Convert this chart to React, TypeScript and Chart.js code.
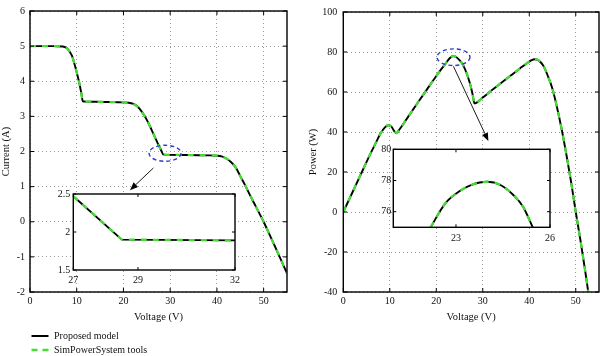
import React, { useEffect, useRef } from "react";
import { Chart, registerables } from "chart.js";

Chart.register(...registerables);

const FONT = "'Liberation Serif', 'Times New Roman', serif";
const GREEN = "#44dd33";
const BLUE = "#2a3bd0";

// ---------- Series names ----------
const seriesNames = ["Proposed model", "SimPowerSystem tools"];

// ---------- Left panel: I-V ----------
const ivVoltage = [0, 3, 5, 7, 7.5, 8, 8.5, 9, 9.5, 10, 10.5, 11, 11.3, 12, 14, 16, 18, 20, 21, 22, 23, 24, 25, 26, 27, 28, 28.6, 30, 33, 36, 38, 40, 41, 42, 43, 44, 45, 46, 47, 48, 49, 50, 51, 52, 53, 54, 55];
const ivModelCurrent = [5, 5, 5, 4.99, 4.97, 4.93, 4.84, 4.72, 4.5, 4.25, 3.98, 3.65, 3.43, 3.42, 3.415, 3.41, 3.405, 3.4, 3.39, 3.36, 3.28, 3.12, 2.9, 2.62, 2.33, 2.05, 1.91, 1.905, 1.9, 1.895, 1.89, 1.88, 1.86, 1.8, 1.7, 1.55, 1.3, 1.05, 0.78, 0.52, 0.26, 0, -0.29, -0.58, -0.87, -1.17, -1.47];
const ivSimCurrent = [5, 5, 5, 4.99, 4.97, 4.93, 4.84, 4.72, 4.5, 4.25, 3.98, 3.65, 3.43, 3.42, 3.415, 3.41, 3.405, 3.4, 3.39, 3.36, 3.28, 3.12, 2.9, 2.62, 2.33, 2.05, 1.91, 1.905, 1.9, 1.895, 1.89, 1.88, 1.86, 1.8, 1.7, 1.55, 1.3, 1.05, 0.78, 0.52, 0.26, 0, -0.29, -0.58, -0.87, -1.17, -1.47];
const ivXTicks = [0, 10, 20, 30, 40, 50];
const ivYTicks = [-2, -1, 0, 1, 2, 3, 4, 5, 6];

// Left inset (zoom of the knee)
const ivInsetVoltage = [27, 28.5, 32];
const ivInsetModelCurrent = [2.47, 1.9, 1.89];
const ivInsetSimCurrent = [2.47, 1.9, 1.89];
const ivInsetXTicks = [27, 29, 32];
const ivInsetYTicks = [1.5, 2, 2.5];

// ---------- Right panel: P-V ----------
const pvVoltage = [0, 2, 4, 6, 7, 8, 9, 9.6, 10.3, 11, 11.4, 12, 14, 16, 18, 20, 21, 22, 22.5, 23, 23.6, 24.2, 25, 25.7, 26.5, 27.2, 27.8, 28.2, 30, 32, 34, 36, 38, 39.5, 40.5, 41.1, 42, 43, 44, 45, 46, 47, 48, 49, 50, 51, 52, 53];
const pvModelPower = [0, 10, 20, 29.9, 34.6, 39.2, 42.4, 43.4, 42.8, 40.3, 39.4, 41, 47.8, 54.6, 61.3, 68, 71.2, 74.2, 75.8, 77.1, 78, 77.6, 75.9, 73.7, 69.6, 64.6, 59, 54.3, 57.2, 61, 64.6, 68.2, 71.8, 74.4, 75.9, 76.4, 75.8, 73.2, 68, 61.5, 52, 41, 28.5, 15, 0, -14, -29, -45];
const pvSimPower = [0, 10, 20, 29.9, 34.6, 39.2, 42.4, 43.4, 42.8, 40.3, 39.4, 41, 47.8, 54.6, 61.3, 68, 71.2, 74.2, 75.8, 77.1, 78, 77.6, 75.9, 73.7, 69.6, 64.6, 59, 54.3, 57.2, 61, 64.6, 68.2, 71.8, 74.4, 75.9, 76.4, 75.8, 73.2, 68, 61.5, 52, 41, 28.5, 15, 0, -14, -29, -45];
const pvXTicks = [0, 10, 20, 30, 40, 50];
const pvYTicks = [-40, -20, 0, 20, 40, 60, 80, 100];

// Right inset (zoom of the global peak)
const pvInsetVoltage = [22.19, 22.66, 23.17, 23.48, 24.0, 24.42, 24.83, 25.14, 25.45];
const pvInsetModelPower = [75, 76.54, 77.39, 77.71, 77.92, 77.71, 77.07, 76.32, 75];
const pvInsetSimPower = [75, 76.54, 77.39, 77.71, 77.92, 77.71, 77.07, 76.32, 75];
const pvInsetXTicks = [23, 26];
const pvInsetYTicks = [76, 78, 80];

// ---------- Annotations (data coordinates) ----------
const ivEllipse = { x: 28.9, y: 1.95, rx: 16, ry: 8 };
const ivArrow = { from: [26.4, 1.53], to: [21.4, 0.9] };
const pvEllipse = { x: 23.7, y: 77.4, rx: 16.5, ry: 8.3 };
const pvArrow = { from: [23.7, 72.8], to: [31.2, 35.5] };

type Box = {
  left: number; top: number; width: number; height: number;
  yAxisWidth: number; xAxisHeight: number;
  padTop: number; padRight: number;
};

function toPoints(xs: number[], ys: number[]) {
  return xs.map((x, i) => ({ x, y: ys[i] }));
}

function framePlugin(tickLen: number, lw: number) {
  return {
    id: "frame",
    afterDatasetsDraw(chart: any) {
      const { ctx, chartArea: a, scales } = chart;
      ctx.save();
      ctx.setLineDash([]);
      ctx.strokeStyle = "#000";
      ctx.lineWidth = 1;
      ctx.beginPath();
      for (const t of scales.x.ticks) {
        const px = scales.x.getPixelForValue(t.value);
        ctx.moveTo(px, a.bottom);
        ctx.lineTo(px, a.bottom - tickLen);
        ctx.moveTo(px, a.top);
        ctx.lineTo(px, a.top + tickLen);
      }
      for (const t of scales.y.ticks) {
        const py = scales.y.getPixelForValue(t.value);
        ctx.moveTo(a.left, py);
        ctx.lineTo(a.left + tickLen, py);
        ctx.moveTo(a.right, py);
        ctx.lineTo(a.right - tickLen, py);
      }
      ctx.stroke();
      ctx.lineWidth = lw;
      ctx.strokeRect(a.left, a.top, a.right - a.left, a.bottom - a.top);
      ctx.restore();
    },
  };
}

const whiteBgPlugin = {
  id: "whiteBg",
  beforeDraw(chart: any) {
    const { ctx, chartArea: a } = chart;
    ctx.save();
    ctx.fillStyle = "#fff";
    ctx.fillRect(a.left, a.top, a.right - a.left, a.bottom - a.top);
    ctx.restore();
  },
};

function annotationPlugin(ellipse: any, arrow: any) {
  return {
    id: "annot",
    afterDatasetsDraw(chart: any) {
      const { ctx, scales } = chart;
      const X = (v: number) => scales.x.getPixelForValue(v);
      const Y = (v: number) => scales.y.getPixelForValue(v);
      ctx.save();
      ctx.strokeStyle = BLUE;
      ctx.lineWidth = 1.4;
      ctx.setLineDash([4, 3]);
      ctx.beginPath();
      ctx.ellipse(X(ellipse.x), Y(ellipse.y), ellipse.rx, ellipse.ry, 0, 0, Math.PI * 2);
      ctx.stroke();
      ctx.setLineDash([]);
      ctx.strokeStyle = "#000";
      ctx.fillStyle = "#000";
      ctx.lineWidth = 0.9;
      const x1 = X(arrow.from[0]), y1 = Y(arrow.from[1]);
      const x2 = X(arrow.to[0]), y2 = Y(arrow.to[1]);
      const ang = Math.atan2(y2 - y1, x2 - x1);
      const hl = 8, hw = 3.2;
      const bx = x2 - hl * Math.cos(ang), by = y2 - hl * Math.sin(ang);
      ctx.beginPath();
      ctx.moveTo(x1, y1);
      ctx.lineTo(bx, by);
      ctx.stroke();
      ctx.beginPath();
      ctx.moveTo(x2, y2);
      ctx.lineTo(bx + hw * Math.sin(ang), by - hw * Math.cos(ang));
      ctx.lineTo(bx - hw * Math.sin(ang), by + hw * Math.cos(ang));
      ctx.closePath();
      ctx.fill();
      ctx.restore();
    },
  };
}

function makeConfig(p: {
  xs: number[]; model: number[]; sim: number[];
  xMin: number; xMax: number; yMin: number; yMax: number;
  xTicks: number[]; yTicks: number[];
  xTitle?: string; yTitle?: string; yTitlePad?: number;
  box: Box; grid: boolean; xTickPad: number; yTickPad: number;
  tickLen: number; extraPlugins: any[]; smooth: boolean;
}) {
  const tickFont = { family: FONT, size: 10 };
  const titleFont = { family: FONT, size: 10.5 };
  const gridOpts = p.grid
    ? { display: true, color: "#9a9a9a", lineWidth: 1, drawTicks: false }
    : { display: false, drawTicks: false };
  const curve = p.smooth
    ? { cubicInterpolationMode: "monotone" }
    : { tension: 0 };
  return {
    type: "line",
    data: {
      datasets: [
        {
          label: seriesNames[1],
          data: toPoints(p.xs, p.sim),
          borderColor: GREEN,
          borderWidth: 2.3,
          borderDash: [6, 6],
          pointRadius: 0,
          fill: false,
          ...curve,
        },
        {
          label: seriesNames[0],
          data: toPoints(p.xs, p.model),
          borderColor: "#000",
          borderWidth: 1.9,
          pointRadius: 0,
          fill: false,
          ...curve,
        },
      ],
    },
    options: {
      responsive: false,
      maintainAspectRatio: false,
      animation: false,
      events: [],
      layout: { padding: { top: p.box.padTop, right: p.box.padRight, left: 0, bottom: 0 } },
      plugins: { legend: { display: false }, tooltip: { enabled: false } },
      scales: {
        x: {
          type: "linear",
          min: p.xMin,
          max: p.xMax,
          afterBuildTicks: (s: any) => { s.ticks = p.xTicks.map((v) => ({ value: v })); },
          afterFit: (s: any) => { s.height = p.box.xAxisHeight; },
          ticks: { font: tickFont, color: "#111", padding: p.xTickPad, maxRotation: 0, autoSkip: false, callback: (v: any) => String(v) },
          grid: gridOpts,
          border: { display: false, dash: [1, 3] },
          title: p.xTitle
            ? { display: true, text: p.xTitle, font: titleFont, color: "#111", padding: { top: 0, bottom: 6 } }
            : { display: false },
        },
        y: {
          type: "linear",
          min: p.yMin,
          max: p.yMax,
          afterBuildTicks: (s: any) => { s.ticks = p.yTicks.map((v) => ({ value: v })); },
          afterFit: (s: any) => { s.width = p.box.yAxisWidth; },
          ticks: { font: tickFont, color: "#111", padding: p.yTickPad, autoSkip: false, callback: (v: any) => String(v) },
          grid: gridOpts,
          border: { display: false, dash: [1, 3] },
          title: p.yTitle
            ? { display: true, text: p.yTitle, font: titleFont, color: "#111", padding: { top: p.yTitlePad ?? 0, bottom: 0 } }
            : { display: false },
        },
      },
    },
    plugins: [...p.extraPlugins, framePlugin(p.tickLen, 1.4)],
  };
}

function ChartCanvas({ box, config }: { box: Box; config: any }) {
  const ref = useRef<HTMLCanvasElement | null>(null);
  useEffect(() => {
    if (!ref.current) return;
    const chart = new Chart(ref.current, config);
    return () => chart.destroy();
  }, []);
  return (
    <canvas
      ref={ref}
      width={box.width}
      height={box.height}
      style={{ position: "absolute", left: box.left, top: box.top, width: box.width, height: box.height }}
    />
  );
}

const leftBox: Box = { left: 0, top: 0, width: 300, height: 330, yAxisWidth: 30, xAxisHeight: 38, padTop: 4, padRight: 13 };
const rightBox: Box = { left: 300, top: 0, width: 300, height: 330, yAxisWidth: 43.3, xAxisHeight: 38, padTop: 4, padRight: 1 };
const leftInsetBox: Box = { left: 40, top: 185, width: 206, height: 105, yAxisWidth: 33.3, xAxisHeight: 20, padTop: 8.3, padRight: 11 };
const rightInsetBox: Box = { left: 355, top: 140, width: 205, height: 110, yAxisWidth: 38.3, xAxisHeight: 22.7, padTop: 9.3, padRight: 5.7 };

export default function App() {
  const leftCfg = makeConfig({
    xs: ivVoltage, model: ivModelCurrent, sim: ivSimCurrent,
    xMin: 0, xMax: 55, yMin: -2, yMax: 6, xTicks: ivXTicks, yTicks: ivYTicks,
    xTitle: "Voltage (V)", yTitle: "Current (A)", yTitlePad: 0,
    box: leftBox, grid: true, xTickPad: 3, yTickPad: 5, tickLen: 4, smooth: true,
    extraPlugins: [annotationPlugin(ivEllipse, ivArrow)],
  });
  const rightCfg = makeConfig({
    xs: pvVoltage, model: pvModelPower, sim: pvSimPower,
    xMin: 0, xMax: 55, yMin: -40, yMax: 100, xTicks: pvXTicks, yTicks: pvYTicks,
    xTitle: "Voltage (V)", yTitle: "Power (W)", yTitlePad: 6.7,
    box: rightBox, grid: true, xTickPad: 3, yTickPad: 6, tickLen: 4, smooth: true,
    extraPlugins: [annotationPlugin(pvEllipse, pvArrow)],
  });
  const leftInsetCfg = makeConfig({
    xs: ivInsetVoltage, model: ivInsetModelCurrent, sim: ivInsetSimCurrent,
    xMin: 27, xMax: 32, yMin: 1.5, yMax: 2.5, xTicks: ivInsetXTicks, yTicks: ivInsetYTicks,
    box: leftInsetBox, grid: false, xTickPad: 4, yTickPad: 3, tickLen: 3, smooth: false,
    extraPlugins: [whiteBgPlugin],
  });
  const rightInsetCfg = makeConfig({
    xs: pvInsetVoltage, model: pvInsetModelPower, sim: pvInsetSimPower,
    xMin: 21, xMax: 26, yMin: 75, yMax: 80, xTicks: pvInsetXTicks, yTicks: pvInsetYTicks,
    box: rightInsetBox, grid: false, xTickPad: 5, yTickPad: 2, tickLen: 3, smooth: true,
    extraPlugins: [whiteBgPlugin],
  });

  const legendText: React.CSSProperties = {
    position: "absolute", left: 54, fontFamily: FONT, fontSize: 10, color: "#111",
    lineHeight: "12px", whiteSpace: "nowrap",
  };

  return (
    <div style={{ position: "absolute", left: 0, top: 0, width: 600, height: 356, background: "#fff", overflow: "hidden" }}>
      <ChartCanvas box={leftBox} config={leftCfg} />
      <ChartCanvas box={rightBox} config={rightCfg} />
      <ChartCanvas box={leftInsetBox} config={leftInsetCfg} />
      <ChartCanvas box={rightInsetBox} config={rightInsetCfg} />
      <svg width={20} height={6} style={{ position: "absolute", left: 31, top: 333 }}>
        <line x1={0.5} y1={3} x2={17.5} y2={3} stroke="#000" strokeWidth={2} />
      </svg>
      <div style={{ ...legendText, top: 330 }}>{seriesNames[0]}</div>
      <svg width={20} height={6} style={{ position: "absolute", left: 31, top: 347 }}>
        <line x1={0.5} y1={3} x2={18} y2={3} stroke={GREEN} strokeWidth={2.3} strokeDasharray="6,5" />
      </svg>
      <div style={{ ...legendText, top: 344 }}>{seriesNames[1]}</div>
    </div>
  );
}
